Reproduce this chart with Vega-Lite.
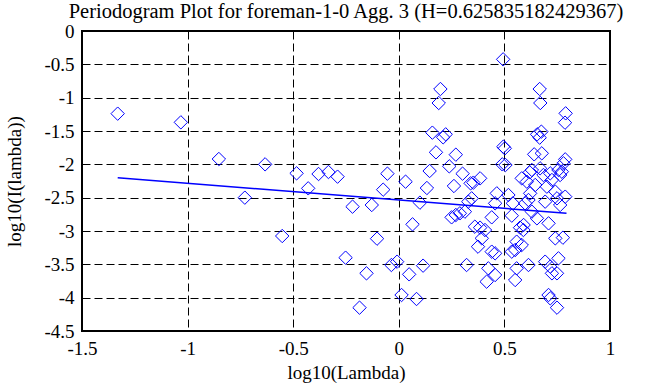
{
  "$schema": "https://vega.github.io/schema/vega-lite/v6.json",
  "width": 528,
  "height": 300,
  "autosize": "none",
  "padding": {"left": 82, "top": 31, "right": 48, "bottom": 56},
  "background": "white",
  "title": {"text": "Periodogram Plot for foreman-1-0 Agg. 3 (H=0.625835182429367)", "font": "Liberation Serif", "fontSize": 20.5, "fontWeight": "normal", "color": "black", "frame": "group", "anchor": "middle", "baseline": "bottom", "offset": 6, "dy": 26},
  "config": {
    "font": "Liberation Serif",
    "view": {"stroke": "black", "strokeWidth": 2},
    "axis": {"grid": true, "gridColor": "black", "gridDash": [8, 4], "gridOpacity": 1, "gridWidth": 1, "ticks": false, "domain": false, "labelFont": "Liberation Serif", "labelFontSize": 19, "labelColor": "black", "titleFont": "Liberation Serif", "titleFontSize": 19, "titleFontWeight": "normal", "titleColor": "black", "labelExpr": "toString(datum.value)", "labelOverlap": false, "labelFlush": false, "labelBound": false}
  },
  "datasets": {
    "points": [
      {"x": -1.331, "y": -1.24}, {"x": -1.032, "y": -1.37}, {"x": -0.852, "y": -1.92}, {"x": -0.633, "y": -2.0},
      {"x": -0.484, "y": -2.135}, {"x": -0.38, "y": -2.145}, {"x": -0.333, "y": -2.115}, {"x": -0.29, "y": -2.185},
      {"x": -0.429, "y": -2.36}, {"x": -0.729, "y": -2.5}, {"x": -0.219, "y": -2.635}, {"x": -0.552, "y": -3.075},
      {"x": -0.252, "y": -3.4}, {"x": -0.186, "y": -4.15}, {"x": -0.153, "y": -3.635}, {"x": -0.128, "y": -2.61},
      {"x": -0.103, "y": -3.115}, {"x": -0.054, "y": -2.14}, {"x": -0.074, "y": -2.38}, {"x": -0.035, "y": -3.51},
      {"x": -0.008, "y": -3.46}, {"x": 0.032, "y": -2.26}, {"x": 0.013, "y": -3.96}, {"x": 0.049, "y": -3.65},
      {"x": 0.065, "y": -2.9}, {"x": 0.084, "y": -4.02}, {"x": 0.1, "y": -2.575}, {"x": 0.115, "y": -3.52},
      {"x": 0.133, "y": -2.355}, {"x": 0.146, "y": -2.1}, {"x": 0.159, "y": -1.525}, {"x": 0.176, "y": -1.82},
      {"x": 0.189, "y": -1.08}, {"x": 0.197, "y": -0.87}, {"x": 0.21, "y": -1.595}, {"x": 0.222, "y": -1.55},
      {"x": 0.239, "y": -2.03}, {"x": 0.261, "y": -2.325}, {"x": 0.27, "y": -1.855}, {"x": 0.302, "y": -2.14},
      {"x": 0.25, "y": -2.795}, {"x": 0.27, "y": -2.76}, {"x": 0.289, "y": -2.735}, {"x": 0.313, "y": -2.71},
      {"x": 0.329, "y": -2.56}, {"x": 0.345, "y": -2.51}, {"x": 0.34, "y": -2.285}, {"x": 0.321, "y": -3.51},
      {"x": 0.375, "y": -3.235}, {"x": 0.36, "y": -2.935}, {"x": 0.353, "y": -2.275}, {"x": 0.385, "y": -2.21},
      {"x": 0.385, "y": -2.95}, {"x": 0.408, "y": -2.985}, {"x": 0.393, "y": -3.11}, {"x": 0.44, "y": -3.31},
      {"x": 0.456, "y": -3.335}, {"x": 0.424, "y": -3.56}, {"x": 0.456, "y": -3.66}, {"x": 0.416, "y": -3.76},
      {"x": 0.44, "y": -2.795}, {"x": 0.456, "y": -2.585}, {"x": 0.464, "y": -2.435}, {"x": 0.494, "y": -0.425},
      {"x": 0.495, "y": -1.735}, {"x": 0.502, "y": -1.76}, {"x": 0.49, "y": -2.0}, {"x": 0.505, "y": -2.01},
      {"x": 0.519, "y": -2.46}, {"x": 0.54, "y": -2.585}, {"x": 0.535, "y": -2.77}, {"x": 0.558, "y": -3.16},
      {"x": 0.582, "y": -3.21}, {"x": 0.535, "y": -3.31}, {"x": 0.551, "y": -3.285}, {"x": 0.558, "y": -3.56},
      {"x": 0.551, "y": -3.735}, {"x": 0.574, "y": -2.95}, {"x": 0.59, "y": -2.985}, {"x": 0.591, "y": -2.91},
      {"x": 0.582, "y": -2.21}, {"x": 0.606, "y": -2.26}, {"x": 0.62, "y": -2.12}, {"x": 0.598, "y": -2.585},
      {"x": 0.614, "y": -2.535}, {"x": 0.622, "y": -2.435}, {"x": 0.614, "y": -3.51}, {"x": 0.63, "y": -2.085},
      {"x": 0.63, "y": -2.71}, {"x": 0.641, "y": -1.85}, {"x": 0.646, "y": -2.31}, {"x": 0.654, "y": -2.81},
      {"x": 0.655, "y": -1.55}, {"x": 0.675, "y": -1.51}, {"x": 0.667, "y": -1.6}, {"x": 0.667, "y": -0.87},
      {"x": 0.67, "y": -1.08}, {"x": 0.669, "y": -2.06}, {"x": 0.677, "y": -1.835}, {"x": 0.685, "y": -2.16},
      {"x": 0.693, "y": -2.56}, {"x": 0.693, "y": -3.46}, {"x": 0.701, "y": -2.335}, {"x": 0.709, "y": -2.885},
      {"x": 0.709, "y": -3.96}, {"x": 0.717, "y": -4.01}, {"x": 0.717, "y": -2.135}, {"x": 0.725, "y": -2.235},
      {"x": 0.717, "y": -3.535}, {"x": 0.725, "y": -3.635}, {"x": 0.741, "y": -2.41}, {"x": 0.741, "y": -3.11},
      {"x": 0.749, "y": -2.51}, {"x": 0.749, "y": -3.635}, {"x": 0.749, "y": -4.15}, {"x": 0.756, "y": -3.41},
      {"x": 0.756, "y": -2.085}, {"x": 0.772, "y": -2.11}, {"x": 0.764, "y": -2.16}, {"x": 0.764, "y": -2.61},
      {"x": 0.777, "y": -3.1}, {"x": 0.78, "y": -1.985}, {"x": 0.788, "y": -1.925}, {"x": 0.788, "y": -2.485},
      {"x": 0.79, "y": -1.235}, {"x": 0.787, "y": -1.375}
    ],
    "fit": [
      {"x": -1.331, "y": -2.2},
      {"x": 0.794, "y": -2.735}
    ]
  },
  "encoding": {
    "x": {"field": "x", "type": "quantitative", "scale": {"domain": [-1.5, 1], "nice": false, "zero": false}, "axis": {"values": [-1.5, -1, -0.5, 0, 0.5, 1], "title": "log10(Lambda)", "labelPadding": 8, "titlePadding": 5, "labelFont": "Liberation Serif"}},
    "y": {"field": "y", "type": "quantitative", "scale": {"domain": [-4.5, 0], "nice": false, "zero": false}, "axis": {"values": [-4.5, -4, -3.5, -3, -2.5, -2, -1.5, -1, -0.5, 0], "tickCount": 10, "title": "log10(I(lambda))", "labelPadding": 8, "labelFont": "Liberation Serif", "titleX": -58, "titleY": 150, "titleAngle": -90, "titleBaseline": "bottom", "titleAlign": "center"}}
  },
  "layer": [
    {
      "data": {"name": "points"},
      "mark": {"type": "point", "shape": "diamond", "size": 180, "filled": false, "stroke": "#0000ff", "strokeWidth": 1, "opacity": 1}
    },
    {
      "data": {"name": "fit"},
      "mark": {"type": "line", "color": "#0000ff", "strokeWidth": 1.5}
    }
  ]
}
